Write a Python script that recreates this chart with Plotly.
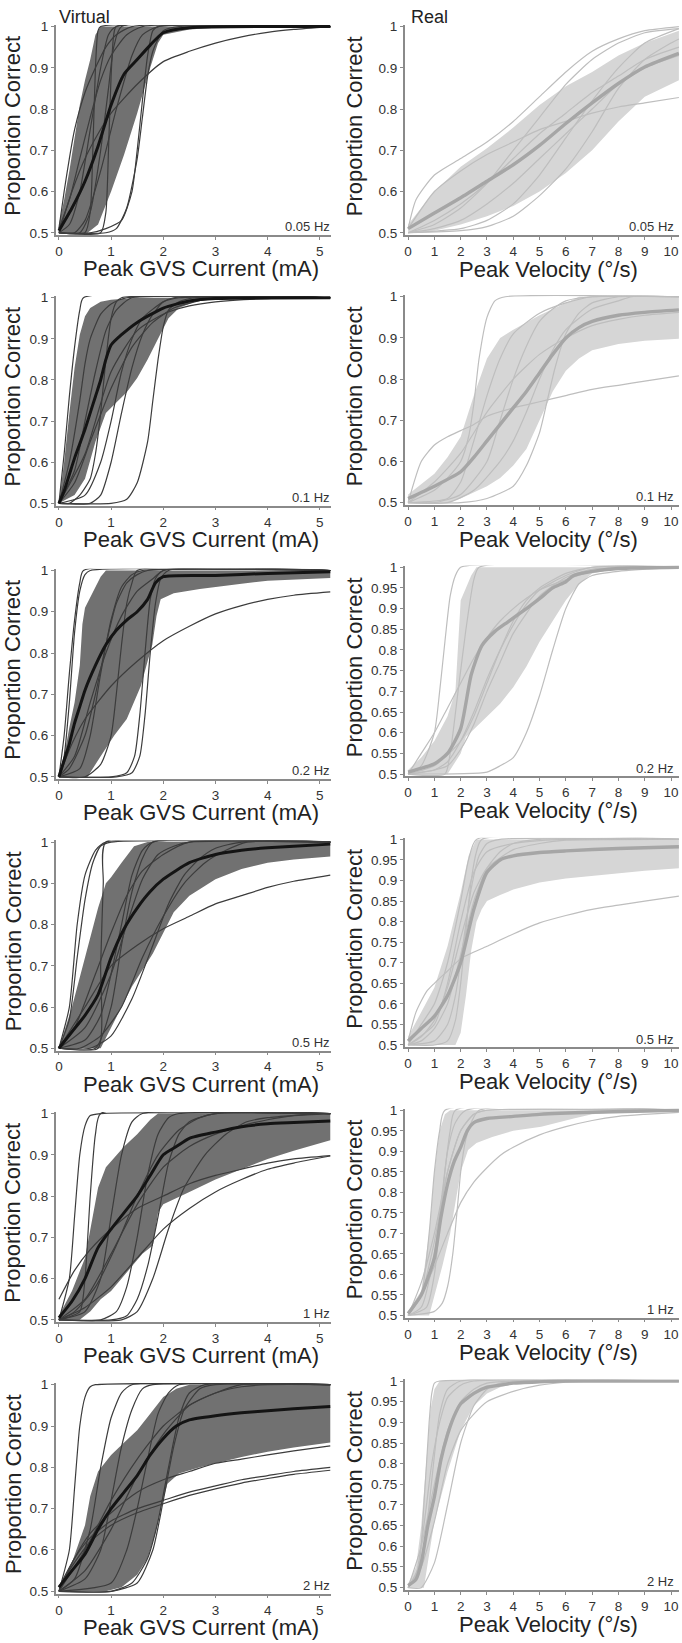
import plotly.graph_objects as go

# ---------------- DATA ----------------
FREQS = ["0.05 Hz", "0.1 Hz", "0.2 Hz", "0.5 Hz", "1 Hz", "2 Hz"]
LEFT_XTICKS = [0, 1, 2, 3, 4, 5]
RIGHT_XTICKS = [0, 1, 2, 3, 4, 5, 6, 7, 8, 9, 10]
YTICKS_10 = [0.5, 0.6, 0.7, 0.8, 0.9, 1.0]
YTICKS_10_TEXT = ["0.5", "0.6", "0.7", "0.8", "0.9", "1"]
YTICKS_05 = [0.5, 0.55, 0.6, 0.65, 0.7, 0.75, 0.8, 0.85, 0.9, 0.95, 1.0]
YTICKS_05_TEXT = ["0.5", "0.55", "0.6", "0.65", "0.7", "0.75", "0.8", "0.85", "0.9", "0.95", "1"]

# ---- Virtual (GVS current, mA) ----
V005_MEAN = [(0,0.505),(0.25,0.56),(0.5,0.625),(0.75,0.71),(1.0,0.81),(1.25,0.885),(1.5,0.92),(1.75,0.955),(2.0,0.985),(2.5,0.997),(5.2,1.0)]
V005_HI = [(0,0.52),(0.1,0.58),(0.2,0.65),(0.3,0.73),(0.4,0.81),(0.5,0.87),(0.6,0.92),(0.7,0.98),(0.8,1.0),(5.2,1.0)]
V005_LO = [(0,0.5),(0.55,0.5),(0.75,0.52),(1.0,0.6),(1.25,0.69),(1.5,0.79),(1.75,0.9),(1.9,0.96),(2.0,0.98),(2.5,0.993),(3.0,0.997),(4.0,0.999),(5.2,1.0)]
V005_IND = [
    [(0,0.5),(0.5,0.5),(0.6,0.55),(0.65,0.7),(0.7,0.9),(0.75,0.99),(0.8,1.0),(5.2,1.0)],
    [(0,0.51),(0.1,0.6),(0.2,0.68),(0.3,0.75),(0.5,0.84),(0.7,0.9),(0.9,0.95),(1.1,0.98),(1.4,1.0),(5.2,1.0)],
    [(0,0.5),(0.2,0.52),(0.4,0.6),(0.6,0.75),(0.8,0.9),(0.95,0.98),(1.1,1.0),(5.2,1.0)],
    [(0,0.5),(0.4,0.5),(0.6,0.55),(0.8,0.7),(0.95,0.85),(1.05,0.95),(1.2,1.0),(5.2,1.0)],
    [(0,0.5),(0.3,0.5),(0.5,0.53),(0.8,0.65),(1.1,0.8),(1.4,0.93),(1.6,0.98),(1.9,1.0),(5.2,1.0)],
    [(0,0.5),(0.9,0.5),(1.1,0.51),(1.3,0.56),(1.5,0.68),(1.6,0.78),(1.7,0.88),(1.8,0.94),(1.9,0.97),(2.0,0.99),(2.3,1.0),(5.2,1.0)],
    [(0,0.5),(0.6,0.5),(0.9,0.51),(1.2,0.53),(1.4,0.6),(1.5,0.7),(1.6,0.82),(1.7,0.93),(1.8,0.99),(1.9,1.0),(5.2,1.0)],
    [(0,0.5),(0.25,0.6),(0.5,0.68),(0.75,0.74),(1.0,0.79),(1.5,0.86),(2.0,0.915),(2.5,0.94),(3.0,0.96),(3.5,0.975),(4.0,0.986),(4.5,0.993),(5.2,1.0)],
    [(0,0.51),(0.2,0.58),(0.4,0.68),(0.6,0.78),(0.8,0.87),(1.0,0.93),(1.3,0.98),(1.6,1.0),(5.2,1.0)],
    [(0,0.5),(0.8,0.5),(0.9,0.55),(0.95,0.7),(1.0,0.88),(1.05,0.98),(1.1,1.0),(5.2,1.0)],
]

V01_MEAN = [(0,0.5),(0.1,0.53),(0.2,0.57),(0.3,0.61),(0.4,0.645),(0.5,0.68),(0.6,0.72),(0.7,0.76),(0.8,0.8),(0.9,0.85),(1.0,0.885),(1.2,0.91),(1.5,0.94),(2.0,0.975),(2.5,0.992),(3.0,0.998),(5.2,1.0)]
V01_HI = [(0,0.5),(0.1,0.6),(0.2,0.72),(0.3,0.83),(0.4,0.91),(0.5,0.955),(0.6,0.975),(0.8,0.99),(1.0,0.995),(1.5,1.0),(5.2,1.0)]
V01_LO = [(0,0.5),(0.3,0.52),(0.5,0.56),(0.7,0.65),(0.9,0.72),(1.1,0.745),(1.3,0.77),(1.5,0.805),(1.7,0.85),(1.9,0.9),(2.1,0.95),(2.3,0.975),(2.6,0.99),(3.0,0.997),(4.0,1.0),(5.2,1.0)]
V01_IND = [
    [(0,0.5),(0.1,0.62),(0.2,0.76),(0.3,0.88),(0.4,0.97),(0.47,1.0),(5.2,1.0)],
    [(0,0.5),(1.0,0.5),(1.3,0.51),(1.5,0.55),(1.7,0.65),(1.8,0.75),(1.9,0.85),(2.0,0.93),(2.1,0.97),(2.3,0.99),(2.6,1.0),(5.2,1.0)],
    [(0,0.5),(0.2,0.5),(0.4,0.52),(0.6,0.56),(0.7,0.62),(0.8,0.72),(0.9,0.85),(1.0,0.95),(1.1,0.99),(1.2,1.0),(5.2,1.0)],
    [(0,0.5),(0.3,0.55),(0.6,0.65),(1.0,0.78),(1.4,0.88),(1.8,0.94),(2.2,0.975),(2.6,0.99),(3.0,1.0),(5.2,1.0)],
    [(0,0.5),(0.3,0.58),(0.5,0.7),(0.7,0.82),(0.9,0.92),(1.1,0.97),(1.4,1.0),(5.2,1.0)],
    [(0,0.5),(0.2,0.6),(0.4,0.75),(0.5,0.84),(0.6,0.9),(0.8,0.96),(1.0,0.985),(1.3,1.0),(5.2,1.0)],
    [(0,0.5),(0.5,0.52),(0.8,0.6),(1.0,0.7),(1.2,0.82),(1.4,0.9),(1.6,0.95),(2.0,0.99),(2.3,1.0),(5.2,1.0)],
    [(0,0.5),(0.5,0.62),(1.0,0.82),(1.5,0.92),(2.0,0.96),(2.5,0.98),(3.0,0.99),(4.0,0.998),(5.2,1.0)],
    [(0,0.5),(0.6,0.5),(0.8,0.52),(1.0,0.6),(1.2,0.72),(1.4,0.83),(1.6,0.91),(1.8,0.96),(2.0,0.99),(2.2,1.0),(5.2,1.0)],
]

V02_MEAN = [(0,0.5),(0.1,0.54),(0.2,0.58),(0.3,0.63),(0.4,0.67),(0.5,0.71),(0.7,0.77),(0.9,0.82),(1.1,0.855),(1.3,0.88),(1.5,0.9),(1.7,0.93),(1.85,0.97),(2.0,0.985),(3.0,0.988),(4.0,0.993),(5.2,0.997)]
V02_HI = [(0,0.5),(0.1,0.55),(0.2,0.62),(0.3,0.68),(0.4,0.77),(0.45,0.87),(0.5,0.91),(0.6,0.935),(0.7,0.96),(0.8,0.985),(0.9,1.0),(5.2,1.0)]
V02_LO = [(0,0.5),(0.55,0.5),(0.8,0.55),(1.06,0.6),(1.3,0.64),(1.57,0.72),(1.7,0.78),(1.79,0.82),(1.87,0.89),(1.95,0.93),(2.2,0.945),(2.7,0.955),(3.5,0.968),(4.0,0.975),(5.2,0.982)]
V02_IND = [
    [(0,0.5),(0.1,0.6),(0.2,0.75),(0.3,0.88),(0.4,0.97),(0.47,1.0),(5.2,1.0)],
    [(0,0.5),(0.1,0.55),(0.2,0.68),(0.3,0.85),(0.4,0.95),(0.5,0.99),(0.6,1.0),(5.2,1.0)],
    [(0,0.5),(1.0,0.5),(1.3,0.51),(1.45,0.55),(1.55,0.65),(1.65,0.8),(1.75,0.93),(1.85,0.98),(2.0,1.0),(5.2,1.0)],
    [(0,0.5),(1.1,0.5),(1.4,0.51),(1.55,0.55),(1.65,0.65),(1.75,0.8),(1.85,0.92),(1.95,0.98),(2.1,1.0),(5.2,1.0)],
    [(0,0.5),(0.25,0.58),(0.5,0.64),(1.0,0.72),(1.5,0.78),(2.0,0.83),(2.5,0.865),(3.0,0.895),(3.5,0.915),(4.0,0.93),(4.5,0.94),(5.2,0.948)],
    [(0,0.5),(0.4,0.52),(0.6,0.6),(0.8,0.75),(1.0,0.88),(1.2,0.96),(1.4,0.99),(1.6,1.0),(5.2,1.0)],
    [(0,0.5),(0.3,0.55),(0.6,0.68),(0.9,0.8),(1.2,0.89),(1.5,0.95),(1.8,0.98),(2.0,1.0),(5.2,1.0)],
    [(0,0.5),(0.5,0.5),(0.8,0.53),(1.0,0.6),(1.1,0.7),(1.2,0.82),(1.3,0.92),(1.4,0.97),(1.5,1.0),(5.2,1.0)],
    [(0,0.5),(0.2,0.52),(0.5,0.6),(0.7,0.7),(0.9,0.82),(1.1,0.92),(1.3,0.97),(1.5,0.99),(1.7,1.0),(5.2,1.0)],
]

V05_MEAN = [(0,0.5),(0.25,0.54),(0.5,0.58),(0.75,0.63),(1.0,0.72),(1.25,0.79),(1.5,0.84),(1.75,0.88),(2.0,0.91),(2.5,0.95),(3.0,0.97),(3.5,0.98),(4.0,0.986),(4.5,0.99),(5.2,0.995)]
V05_HI = [(0,0.5),(0.25,0.6),(0.5,0.72),(0.75,0.84),(0.9,0.9),(1.0,0.915),(1.2,0.95),(1.44,0.99),(1.7,1.0),(5.2,1.0)]
V05_LO = [(0,0.5),(0.8,0.5),(1.0,0.55),(1.2,0.6),(1.4,0.65),(1.6,0.69),(1.8,0.73),(2.0,0.78),(2.2,0.83),(2.5,0.87),(3.0,0.91),(3.5,0.935),(4.0,0.95),(4.5,0.958),(5.2,0.965)]
V05_IND = [
    [(0,0.5),(0.2,0.6),(0.35,0.8),(0.5,0.92),(0.7,0.98),(0.9,1.0),(5.2,1.0)],
    [(0,0.5),(0.2,0.57),(0.35,0.72),(0.5,0.86),(0.65,0.95),(0.8,0.99),(1.0,1.0),(5.2,1.0)],
    [(0,0.5),(0.75,0.5),(0.8,0.7),(0.85,0.9),(0.9,1.0),(5.2,1.0)],
    [(0,0.5),(0.5,0.52),(0.8,0.58),(1.0,0.68),(1.2,0.8),(1.4,0.92),(1.6,0.98),(1.8,1.0),(5.2,1.0)],
    [(0,0.5),(0.5,0.55),(1.0,0.68),(1.3,0.8),(1.6,0.91),(1.9,0.97),(2.2,0.99),(2.5,1.0),(5.2,1.0)],
    [(0,0.5),(0.5,0.6),(1.0,0.7),(1.5,0.75),(2.0,0.79),(2.5,0.82),(3.0,0.85),(3.5,0.87),(4.0,0.89),(4.5,0.905),(5.2,0.92)],
    [(0,0.5),(0.4,0.5),(0.8,0.53),(1.2,0.6),(1.6,0.72),(2.0,0.82),(2.4,0.9),(2.8,0.95),(3.2,0.98),(3.6,1.0),(5.2,1.0)],
    [(0,0.5),(0.6,0.5),(1.0,0.53),(1.4,0.62),(1.8,0.75),(2.1,0.85),(2.4,0.92),(2.7,0.96),(3.0,0.985),(3.5,1.0),(5.2,1.0)],
    [(0,0.5),(0.3,0.55),(0.7,0.68),(1.0,0.78),(1.3,0.87),(1.6,0.93),(2.0,0.97),(2.5,1.0),(5.2,1.0)],
    [(0,0.5),(0.7,0.5),(1.0,0.6),(1.2,0.75),(1.4,0.88),(1.6,0.96),(1.8,1.0),(5.2,1.0)],
]

V1_MEAN = [(0,0.505),(0.25,0.545),(0.5,0.6),(0.75,0.675),(1.0,0.72),(1.25,0.76),(1.5,0.8),(1.75,0.85),(2.0,0.9),(2.25,0.92),(2.5,0.94),(3.0,0.955),(3.5,0.968),(4.0,0.975),(4.5,0.978),(5.2,0.982)]
V1_HI = [(0,0.51),(0.25,0.57),(0.5,0.65),(0.6,0.72),(0.75,0.82),(0.9,0.87),(1.0,0.885),(1.25,0.92),(1.5,0.95),(1.75,0.985),(1.9,1.0),(5.2,1.0)]
V1_LO = [(0,0.5),(0.4,0.5),(0.6,0.52),(0.8,0.55),(1.0,0.57),(1.2,0.6),(1.4,0.63),(1.6,0.66),(1.8,0.68),(1.9,0.76),(2.0,0.78),(2.5,0.81),(3.0,0.84),(3.5,0.865),(4.0,0.89),(4.5,0.91),(5.2,0.935)]
V1_IND = [
    [(0,0.5),(0.2,0.6),(0.3,0.75),(0.4,0.9),(0.5,0.97),(0.6,0.995),(0.8,1.0),(5.2,1.0)],
    [(0,0.5),(0.4,0.52),(0.5,0.6),(0.6,0.8),(0.7,0.95),(0.8,1.0),(5.2,1.0)],
    [(0,0.5),(0.5,0.52),(0.8,0.6),(1.0,0.75),(1.2,0.9),(1.4,0.98),(1.6,1.0),(5.2,1.0)],
    [(0,0.5),(0.8,0.5),(1.1,0.52),(1.3,0.58),(1.5,0.7),(1.7,0.85),(1.9,0.95),(2.1,0.99),(2.3,1.0),(5.2,1.0)],
    [(0,0.5),(1.0,0.5),(1.3,0.51),(1.5,0.55),(1.7,0.63),(1.9,0.75),(2.1,0.88),(2.3,0.95),(2.5,0.98),(3.0,1.0),(5.2,1.0)],
    [(0,0.55),(0.3,0.62),(0.6,0.67),(1.0,0.72),(1.5,0.77),(2.0,0.8),(2.5,0.83),(3.0,0.85),(3.5,0.865),(4.0,0.88),(4.5,0.89),(5.2,0.898)],
    [(0,0.5),(0.5,0.53),(1.0,0.58),(1.5,0.65),(2.0,0.72),(2.5,0.77),(3.0,0.81),(3.5,0.84),(4.0,0.865),(4.5,0.88),(5.2,0.897)],
    [(0,0.5),(0.3,0.52),(0.7,0.58),(1.1,0.68),(1.5,0.8),(1.9,0.9),(2.3,0.96),(2.7,0.99),(3.0,1.0),(5.2,1.0)],
    [(0,0.5),(0.5,0.55),(1.0,0.66),(1.5,0.78),(2.0,0.87),(2.5,0.92),(3.0,0.95),(3.5,0.97),(4.0,0.985),(4.5,0.995),(5.2,1.0)],
    [(0,0.5),(1.2,0.5),(1.5,0.52),(1.8,0.6),(2.1,0.72),(2.4,0.82),(2.8,0.9),(3.2,0.95),(3.6,0.98),(4.0,0.99),(5.0,1.0),(5.2,1.0)],
]

V2_MEAN = [(0,0.51),(0.25,0.55),(0.5,0.59),(0.75,0.65),(1.0,0.7),(1.25,0.74),(1.5,0.78),(1.75,0.83),(2.0,0.87),(2.25,0.9),(2.5,0.915),(3.0,0.925),(3.5,0.932),(4.0,0.937),(4.5,0.942),(5.2,0.947)]
V2_HI = [(0,0.51),(0.25,0.57),(0.5,0.66),(0.6,0.73),(0.75,0.79),(1.0,0.83),(1.25,0.86),(1.5,0.89),(1.75,0.93),(2.0,0.97),(2.25,0.99),(2.5,1.0),(5.2,1.0)]
V2_LO = [(0,0.5),(0.9,0.5),(1.2,0.51),(1.5,0.54),(1.7,0.58),(1.85,0.64),(1.95,0.7),(2.08,0.76),(2.3,0.785),(2.7,0.8),(3.0,0.81),(3.5,0.825),(4.0,0.838),(4.5,0.848),(5.2,0.86)]
V2_IND = [
    [(0,0.5),(0.2,0.6),(0.3,0.75),(0.4,0.9),(0.5,0.97),(0.6,0.995),(0.7,1.0),(5.2,1.0)],
    [(0,0.5),(0.3,0.53),(0.6,0.65),(0.8,0.8),(1.0,0.92),(1.2,0.98),(1.4,1.0),(5.2,1.0)],
    [(0,0.5),(0.5,0.53),(0.8,0.6),(1.0,0.72),(1.2,0.85),(1.4,0.94),(1.6,0.99),(1.8,1.0),(5.2,1.0)],
    [(0,0.5),(1.0,0.52),(1.3,0.6),(1.5,0.7),(1.7,0.82),(1.9,0.93),(2.1,0.98),(2.3,1.0),(5.2,1.0)],
    [(0,0.5),(1.0,0.5),(1.4,0.52),(1.7,0.58),(1.9,0.67),(2.1,0.8),(2.3,0.92),(2.5,0.98),(2.8,1.0),(5.2,1.0)],
    [(0,0.5),(1.0,0.5),(1.5,0.52),(1.8,0.6),(2.0,0.72),(2.2,0.85),(2.4,0.94),(2.7,0.99),(3.0,1.0),(5.2,1.0)],
    [(0,0.5),(0.5,0.55),(1.0,0.65),(1.5,0.78),(2.0,0.88),(2.5,0.95),(3.0,0.98),(3.5,0.995),(4.0,1.0),(5.2,1.0)],
    [(0,0.5),(0.3,0.58),(0.6,0.64),(1.0,0.69),(1.5,0.74),(2.0,0.77),(2.5,0.79),(3.0,0.81),(3.5,0.82),(4.0,0.83),(4.5,0.84),(5.2,0.852)],
    [(0,0.51),(0.3,0.58),(0.6,0.63),(1.0,0.67),(1.5,0.7),(2.0,0.72),(2.5,0.74),(3.0,0.755),(3.5,0.77),(4.0,0.78),(4.5,0.79),(5.2,0.8)],
    [(0,0.51),(0.3,0.57),(0.6,0.62),(1.0,0.66),(1.5,0.69),(2.0,0.712),(2.5,0.732),(3.0,0.748),(3.5,0.762),(4.0,0.773),(4.5,0.783),(5.2,0.793)],
    [(0,0.5),(0.5,0.6),(1.0,0.72),(1.5,0.82),(2.0,0.9),(2.5,0.95),(3.0,0.98),(3.5,1.0),(5.2,1.0)],
]

# ---- Real (peak velocity, deg/s) ----
R005_MEAN = [(0,0.51),(1,0.548),(2,0.585),(3,0.625),(4,0.665),(5,0.712),(6,0.765),(7,0.815),(8,0.862),(9,0.902),(10.3,0.935)]
R005_HI = [(0,0.52),(1,0.6),(2,0.66),(3,0.705),(4,0.755),(5,0.81),(6,0.855),(7,0.89),(8,0.93),(9,0.96),(10.3,0.99)]
R005_LO = [(0,0.5),(1,0.505),(2,0.52),(3,0.54),(4,0.565),(5,0.6),(6,0.645),(7,0.7),(8,0.77),(9,0.83),(10.3,0.87)]
R005_IND = [
    [(0,0.51),(0.3,0.58),(1,0.64),(2,0.68),(3,0.72),(4,0.77),(5,0.83),(6,0.89),(7,0.94),(8,0.97),(9,0.99),(10.3,1.0)],
    [(0,0.5),(2,0.505),(3,0.515),(4,0.54),(5,0.59),(6,0.655),(7,0.745),(8,0.85),(9,0.92),(10,0.96),(10.3,0.97)],
    [(0,0.51),(1,0.6),(2,0.65),(3,0.69),(4,0.72),(5,0.75),(6,0.77),(7,0.79),(8,0.805),(9,0.815),(10.3,0.828)],
    [(0,0.5),(1,0.53),(2,0.57),(3,0.62),(4,0.68),(5,0.74),(6,0.79),(7,0.84),(8,0.88),(9,0.92),(10.3,0.95)],
    [(0,0.5),(1,0.52),(2,0.56),(3,0.62),(4,0.7),(5,0.78),(6,0.86),(7,0.92),(8,0.96),(9,0.985),(10.3,0.995)],
    [(0,0.5),(1,0.51),(2,0.53),(3,0.57),(4,0.62),(5,0.68),(6,0.74),(7,0.8),(8,0.86),(9,0.9),(10.3,0.93)],
    [(0,0.5),(2,0.51),(3,0.53),(4,0.57),(5,0.64),(6,0.73),(7,0.82),(8,0.9),(9,0.96),(10.3,0.995)],
]

R01_MEAN = [(0,0.51),(1,0.54),(2,0.575),(2.5,0.61),(3,0.65),(3.5,0.69),(4,0.73),(4.5,0.77),(5,0.815),(5.5,0.86),(6,0.9),(6.5,0.925),(7,0.94),(8,0.955),(9,0.962),(10.3,0.968)]
R01_HI = [(0,0.52),(1,0.57),(1.5,0.61),(2,0.66),(2.5,0.76),(3,0.85),(3.5,0.9),(4,0.92),(5,0.955),(6,0.985),(6.5,1.0),(10.3,1.0)]
R01_LO = [(0,0.5),(1.5,0.5),(2,0.51),(3,0.54),(3.5,0.56),(4,0.59),(4.5,0.63),(5,0.7),(5.5,0.77),(6,0.82),(6.5,0.85),(7,0.87),(8,0.885),(9,0.893),(10.3,0.898)]
R01_IND = [
    [(0,0.5),(1,0.53),(1.5,0.56),(2,0.6),(2.3,0.66),(2.5,0.74),(2.7,0.85),(3,0.95),(3.3,0.99),(3.7,1.0),(10.3,1.0)],
    [(0,0.5),(0.5,0.6),(1,0.64),(1.5,0.66),(2,0.675),(2.5,0.69),(3,0.71),(4,0.73),(5,0.745),(6,0.76),(7,0.775),(8,0.785),(9,0.795),(10.3,0.808)],
    [(0,0.5),(1,0.55),(2,0.62),(3,0.72),(4,0.8),(5,0.86),(6,0.9),(7,0.93),(8,0.945),(9,0.955),(10.3,0.962)],
    [(0,0.5),(2,0.5),(3,0.51),(4,0.54),(4.5,0.59),(5,0.67),(5.3,0.75),(5.6,0.83),(6,0.91),(6.5,0.96),(7,0.985),(8,1.0),(10.3,1.0)],
    [(0,0.5),(1,0.5),(2,0.52),(3,0.6),(3.5,0.7),(4,0.8),(4.5,0.88),(5,0.94),(5.5,0.97),(6,0.99),(7,1.0),(10.3,1.0)],
    [(0,0.5),(1.5,0.5),(2.5,0.53),(3.5,0.6),(4,0.65),(4.5,0.72),(5,0.8),(5.5,0.87),(6,0.92),(7,0.97),(8,0.99),(8.5,1.0),(10.3,1.0)],
    [(0,0.5),(1.5,0.51),(2,0.55),(2.5,0.65),(3,0.76),(3.5,0.85),(4,0.91),(5,0.96),(6,0.985),(7,1.0),(10.3,1.0)],
]

R02_MEAN = [(0,0.505),(1,0.525),(1.5,0.55),(2,0.61),(2.4,0.74),(2.8,0.81),(3.3,0.845),(3.8,0.868),(4.5,0.9),(5,0.924),(5.5,0.95),(6,0.965),(6.3,0.98),(7,0.99),(8,0.997),(10.3,1.0)]
R02_HI = [(0,0.51),(0.5,0.54),(1,0.58),(1.5,0.64),(1.8,0.7),(1.95,0.85),(2.0,0.92),(2.2,0.95),(2.4,0.98),(2.6,1.0),(10.3,1.0)]
R02_LO = [(0,0.5),(1.5,0.5),(2,0.55),(2.2,0.59),(2.5,0.61),(3,0.64),(3.5,0.67),(4,0.71),(4.5,0.76),(5,0.82),(5.5,0.87),(6,0.92),(6.5,0.96),(7,0.985),(8,0.998),(10.3,1.0)]
R02_IND = [
    [(0,0.5),(0.5,0.52),(1,0.6),(1.2,0.7),(1.4,0.82),(1.6,0.93),(1.8,0.98),(2,1.0),(10.3,1.0)],
    [(0,0.5),(1.4,0.5),(1.6,0.55),(1.9,0.7),(2.2,0.85),(2.5,0.97),(2.7,1.0),(10.3,1.0)],
    [(0,0.5),(0.5,0.55),(1,0.6),(1.5,0.66),(2,0.72),(2.5,0.78),(3,0.83),(3.5,0.87),(4,0.9),(4.5,0.925),(5,0.945),(6,0.97),(7,0.99),(8,1.0),(10.3,1.0)],
    [(0,0.5),(3,0.505),(3.5,0.52),(4,0.54),(4.5,0.6),(5,0.69),(5.5,0.8),(6,0.9),(6.5,0.96),(7,0.98),(8,0.99),(10.3,1.0)],
    [(0,0.5),(1,0.51),(1.5,0.53),(2,0.58),(2.5,0.65),(3,0.73),(3.5,0.8),(4,0.86),(4.5,0.91),(5,0.945),(6,0.98),(7,1.0),(10.3,1.0)],
    [(0,0.5),(1,0.52),(2,0.58),(2.5,0.64),(3,0.72),(3.5,0.8),(4,0.87),(4.5,0.92),(5,0.95),(6,0.985),(7,1.0),(10.3,1.0)],
    [(0,0.5),(1,0.51),(1.5,0.52),(2,0.56),(2.5,0.62),(3,0.7),(3.5,0.77),(4,0.84),(5,0.93),(6,0.975),(7,0.995),(10.3,1.0)],
]

R05_MEAN = [(0,0.51),(0.5,0.54),(1,0.57),(1.5,0.62),(2,0.7),(2.5,0.83),(3,0.92),(3.5,0.95),(4,0.96),(5,0.968),(6,0.972),(8,0.978),(10.3,0.982)]
R05_HI = [(0,0.52),(0.5,0.58),(1,0.64),(1.5,0.74),(2,0.87),(2.3,0.96),(2.6,1.0),(10.3,1.0)]
R05_LO = [(0,0.5),(1.8,0.5),(2.0,0.53),(2.2,0.62),(2.4,0.73),(2.6,0.8),(2.8,0.83),(3.0,0.85),(3.5,0.865),(4,0.878),(5,0.895),(6,0.905),(7,0.912),(8,0.918),(9,0.924),(10.3,0.93)]
R05_IND = [
    [(0,0.5),(0.5,0.55),(1,0.6),(1.5,0.7),(2,0.85),(2.3,0.95),(2.6,1.0),(10.3,1.0)],
    [(0,0.5),(1,0.5),(1.5,0.51),(1.8,0.56),(2.0,0.65),(2.2,0.78),(2.4,0.9),(2.6,0.97),(2.8,1.0),(10.3,1.0)],
    [(0,0.51),(0.3,0.58),(0.7,0.63),(1,0.65),(1.5,0.68),(2,0.71),(3,0.74),(4,0.77),(5,0.797),(6,0.815),(7,0.83),(8,0.84),(9,0.85),(10.3,0.862)],
    [(0,0.5),(1,0.55),(1.5,0.65),(2,0.8),(2.5,0.92),(3,0.97),(4,0.99),(5,0.997),(6,1.0),(10.3,1.0)],
    [(0,0.5),(0.5,0.52),(1,0.56),(1.5,0.64),(2,0.76),(2.5,0.87),(3,0.93),(4,0.975),(5,0.99),(6,0.998),(10.3,1.0)],
    [(0,0.5),(1,0.51),(1.5,0.55),(1.8,0.62),(2.1,0.75),(2.4,0.88),(2.7,0.96),(3,0.99),(3.5,1.0),(10.3,1.0)],
    [(0,0.5),(0.5,0.51),(1,0.54),(1.5,0.6),(2,0.72),(2.5,0.85),(3,0.93),(3.5,0.97),(4,0.99),(5,1.0),(10.3,1.0)],
]

R1_MEAN = [(0,0.505),(0.5,0.55),(1.0,0.64),(1.25,0.74),(1.5,0.82),(1.75,0.875),(2.0,0.91),(2.25,0.95),(2.5,0.97),(3.0,0.98),(4,0.985),(5,0.99),(7,0.995),(10.3,1.0)]
R1_HI = [(0,0.51),(0.5,0.56),(0.8,0.7),(1.0,0.85),(1.2,0.95),(1.4,0.99),(1.6,1.0),(10.3,1.0)]
R1_LO = [(0,0.5),(0.8,0.5),(1.0,0.55),(1.3,0.62),(1.6,0.7),(1.8,0.78),(2.0,0.85),(2.28,0.903),(2.6,0.92),(3.2,0.935),(4,0.95),(5.06,0.96),(6.3,0.98),(7,0.99),(8,0.995),(10.3,1.0)]
R1_IND = [
    [(0,0.5),(0.5,0.55),(0.8,0.7),(1.0,0.85),(1.2,0.95),(1.4,1.0),(10.3,1.0)],
    [(0,0.5),(0.5,0.52),(1.0,0.65),(1.3,0.8),(1.5,0.9),(1.8,0.97),(2.2,1.0),(10.3,1.0)],
    [(0,0.5),(0.5,0.55),(1,0.62),(1.5,0.7),(2,0.775),(2.5,0.825),(3,0.86),(3.5,0.89),(4,0.91),(5,0.94),(6,0.96),(7,0.975),(8,0.985),(9,0.99),(10.3,0.995)],
    [(0,0.5),(1,0.51),(1.3,0.53),(1.5,0.57),(1.7,0.65),(1.9,0.78),(2.0,0.85),(2.2,0.93),(2.4,0.97),(2.7,1.0),(10.3,1.0)],
    [(0,0.5),(0.5,0.55),(1,0.68),(1.5,0.85),(2,0.95),(2.5,0.99),(3,1.0),(10.3,1.0)],
    [(0,0.5),(0.7,0.52),(1.0,0.6),(1.2,0.72),(1.4,0.85),(1.6,0.95),(1.8,1.0),(10.3,1.0)],
    [(0,0.5),(0.5,0.58),(1.0,0.7),(1.5,0.85),(2.0,0.95),(2.5,0.99),(3,1.0),(10.3,1.0)],
]

R2_MEAN = [(0,0.505),(0.3,0.52),(0.5,0.56),(0.75,0.65),(1.0,0.72),(1.25,0.81),(1.5,0.87),(1.75,0.915),(2.0,0.945),(2.5,0.97),(3,0.985),(3.5,0.99),(4,0.995),(5,0.998),(6,1.0),(10.3,1.0)]
R2_HI = [(0,0.51),(0.3,0.55),(0.5,0.65),(0.7,0.8),(0.85,0.93),(1.0,0.98),(1.2,1.0),(10.3,1.0)]
R2_LO = [(0,0.5),(0.6,0.5),(0.8,0.58),(1.0,0.66),(1.5,0.78),(2.0,0.88),(2.5,0.94),(3.0,0.97),(3.5,0.985),(4.0,0.993),(5.0,0.998),(6,1.0),(10.3,1.0)]
R2_IND = [
    [(0,0.5),(0.4,0.55),(0.6,0.7),(0.8,0.9),(0.9,0.97),(1.0,0.995),(1.2,1.0),(10.3,1.0)],
    [(0,0.5),(0.5,0.55),(0.8,0.7),(1.0,0.82),(1.2,0.92),(1.5,0.98),(2.0,1.0),(10.3,1.0)],
    [(0,0.5),(0.5,0.55),(1.0,0.66),(1.5,0.8),(2.0,0.88),(2.5,0.92),(3.0,0.95),(4.0,0.975),(5.0,0.99),(6,0.997),(7,1.0),(10.3,1.0)],
    [(0,0.5),(0.5,0.5),(1.0,0.56),(1.5,0.7),(2.0,0.85),(2.5,0.94),(3.0,0.98),(3.5,0.995),(4,1.0),(10.3,1.0)],
    [(0,0.5),(0.3,0.53),(0.6,0.65),(0.9,0.8),(1.2,0.9),(1.5,0.96),(2,0.99),(2.5,1.0),(10.3,1.0)],
    [(0,0.5),(0.5,0.6),(1.0,0.75),(1.5,0.88),(2.0,0.95),(2.5,0.98),(3,0.995),(4,1.0),(10.3,1.0)],
]

LEFT_PANELS = [
    (V005_MEAN, V005_HI, V005_LO, V005_IND),
    (V01_MEAN, V01_HI, V01_LO, V01_IND),
    (V02_MEAN, V02_HI, V02_LO, V02_IND),
    (V05_MEAN, V05_HI, V05_LO, V05_IND),
    (V1_MEAN, V1_HI, V1_LO, V1_IND),
    (V2_MEAN, V2_HI, V2_LO, V2_IND),
]
RIGHT_PANELS = [
    (R005_MEAN, R005_HI, R005_LO, R005_IND),
    (R01_MEAN, R01_HI, R01_LO, R01_IND),
    (R02_MEAN, R02_HI, R02_LO, R02_IND),
    (R05_MEAN, R05_HI, R05_LO, R05_IND),
    (R1_MEAN, R1_HI, R1_LO, R1_IND),
    (R2_MEAN, R2_HI, R2_LO, R2_IND),
]
RIGHT_FINE_Y = [False, False, True, True, True, True]

# ---------------- LAYOUT / STYLE ----------------
W, H = 682, 1643
FONT = "Liberation Sans, Arial, Helvetica, sans-serif"
Y_RANGE = [0.4945, 1.004]
L_XRANGE = [-0.06, 5.22]
R_XRANGE = [-0.13, 10.31]
# pixel rows of y=1 and y=0.5 for each panel
LEFT_TOP = [20.7, 293.7, 568.3, 841.7, 1115.0, 1388.0]
LEFT_BOT = [228.3, 500.7, 776.0, 1049.3, 1322.7, 1596.0]
RIGHT_TOP = [20.7, 292.7, 565.0, 839.0, 1111.7, 1384.3]
RIGHT_BOT = [228.3, 500.0, 773.3, 1046.0, 1318.3, 1592.3]
L_X0, L_XSCALE = 58.0, 52.26
R_X0, R_XSCALE = 407.7, 26.33

STYLE = {
    "L": dict(band="#717171", ind="#3c3c3c", mean="#141414", ind_w=1.2, mean_w=3.0),
    "R": dict(band="#d6d6d6", ind="#bebebe", mean="#a6a6a6", ind_w=1.2, mean_w=3.4),
}
AXIS_COLOR = "#8a8a8a"
TICK_FONT = dict(family=FONT, size=13.5, color="#333333")


def px_to_py(p):
    return 1 - p / H


fig = go.Figure()
layout = dict(
    width=W, height=H, margin=dict(l=0, r=0, t=0, b=0),
    paper_bgcolor="white", plot_bgcolor="rgba(0,0,0,0)", showlegend=False,
    annotations=[],
)

ax_i = 0
for side in ("L", "R"):
    panels = LEFT_PANELS if side == "L" else RIGHT_PANELS
    st = STYLE[side]
    for r, (mean, hi, lo, ind) in enumerate(panels):
        ax_i += 1
        xa = "x" if ax_i == 1 else f"x{ax_i}"
        ya = "y" if ax_i == 1 else f"y{ax_i}"
        top = LEFT_TOP[r] if side == "L" else RIGHT_TOP[r]
        bot = LEFT_BOT[r] if side == "L" else RIGHT_BOT[r]
        ppu = (bot - top) / 0.5
        dtop = top - (Y_RANGE[1] - 1.0) * ppu
        dbot = bot + (0.5 - Y_RANGE[0]) * ppu
        if side == "L":
            xr = L_XRANGE
            x_left = L_X0 + xr[0] * L_XSCALE
            x_right = L_X0 + xr[1] * L_XSCALE
            xticks = LEFT_XTICKS
            fine = False
        else:
            xr = R_XRANGE
            x_left = R_X0 + xr[0] * R_XSCALE
            x_right = R_X0 + xr[1] * R_XSCALE
            xticks = RIGHT_XTICKS
            fine = RIGHT_FINE_Y[r]

        # band (polygon: upper edge then lower edge reversed)
        bx = [p[0] for p in hi] + [p[0] for p in reversed(lo)]
        by = [p[1] for p in hi] + [p[1] for p in reversed(lo)]
        fig.add_trace(go.Scatter(x=bx, y=by, mode="lines", fill="toself",
                                 fillcolor=st["band"], line=dict(width=0, color=st["band"]),
                                 hoverinfo="skip", xaxis=xa, yaxis=ya))
        for curve in ind:
            fig.add_trace(go.Scatter(x=[p[0] for p in curve], y=[p[1] for p in curve],
                                     mode="lines", line=dict(color=st["ind"], width=st["ind_w"],
                                                             shape="spline", smoothing=0.6),
                                     hoverinfo="skip", xaxis=xa, yaxis=ya))
        fig.add_trace(go.Scatter(x=[p[0] for p in mean], y=[p[1] for p in mean],
                                 mode="lines", line=dict(color=st["mean"], width=st["mean_w"],
                                                         shape="spline", smoothing=0.6),
                                 hoverinfo="skip", xaxis=xa, yaxis=ya))

        xkey = "xaxis" if ax_i == 1 else f"xaxis{ax_i}"
        ykey = "yaxis" if ax_i == 1 else f"yaxis{ax_i}"
        common = dict(showline=True, linecolor=AXIS_COLOR, linewidth=1.5,
                      ticks="outside", ticklen=3, tickwidth=1, tickcolor=AXIS_COLOR,
                      showgrid=False, zeroline=False, tickfont=TICK_FONT, fixedrange=True)
        layout[xkey] = dict(common, domain=[x_left / W, x_right / W], range=xr,
                            anchor=ya, tickmode="array", tickvals=xticks,
                            ticktext=[str(t) for t in xticks])
        layout[ykey] = dict(common, domain=[px_to_py(dbot), px_to_py(dtop)], range=Y_RANGE,
                            anchor=xa,
                            tickmode="array",
                            tickvals=YTICKS_05 if fine else YTICKS_10,
                            ticktext=YTICKS_05_TEXT if fine else YTICKS_10_TEXT)

        # axis titles and frequency label as annotations
        ytx = 12 if side == "L" else 354
        xtx = 200 if side == "L" else 548
        xty = bot + (36 if side == "L" else 37)
        layout["annotations"].append(dict(
            text="Proportion Correct", textangle=-90, xref="paper", yref="paper",
            x=ytx / W, y=px_to_py((top + bot) / 2 - 4), xanchor="center", yanchor="middle",
            showarrow=False, font=dict(family=FONT, size=22, color="#222222")))
        layout["annotations"].append(dict(
            text="Peak GVS Current (mA)" if side == "L" else "Peak Velocity (°/s)",
            xref="paper", yref="paper", x=xtx / W, y=px_to_py(xty),
            xanchor="center", yanchor="middle", showarrow=False,
            font=dict(family=FONT, size=22, color="#222222")))
        layout["annotations"].append(dict(
            text=FREQS[r], xref="paper", yref="paper",
            x=(331 if side == "L" else 676) / W, y=px_to_py(bot - 6),
            xanchor="right", yanchor="middle", showarrow=False,
            font=dict(family=FONT, size=13, color="#333333")))

layout["annotations"].append(dict(text="Virtual", xref="paper", yref="paper",
                                  x=56 / W, y=px_to_py(11), xanchor="left", yanchor="middle",
                                  showarrow=False, font=dict(family=FONT, size=18, color="#222222")))
layout["annotations"].append(dict(text="Real", xref="paper", yref="paper",
                                  x=409 / W, y=px_to_py(11), xanchor="left", yanchor="middle",
                                  showarrow=False, font=dict(family=FONT, size=18, color="#222222")))

fig.update_layout(**layout)
fig.write_html(
    "out.html",
    config={"displayModeBar": False},
    post_script="document.body.style.margin='0px';document.body.style.padding='0px';document.body.style.overflow='hidden';",
)
